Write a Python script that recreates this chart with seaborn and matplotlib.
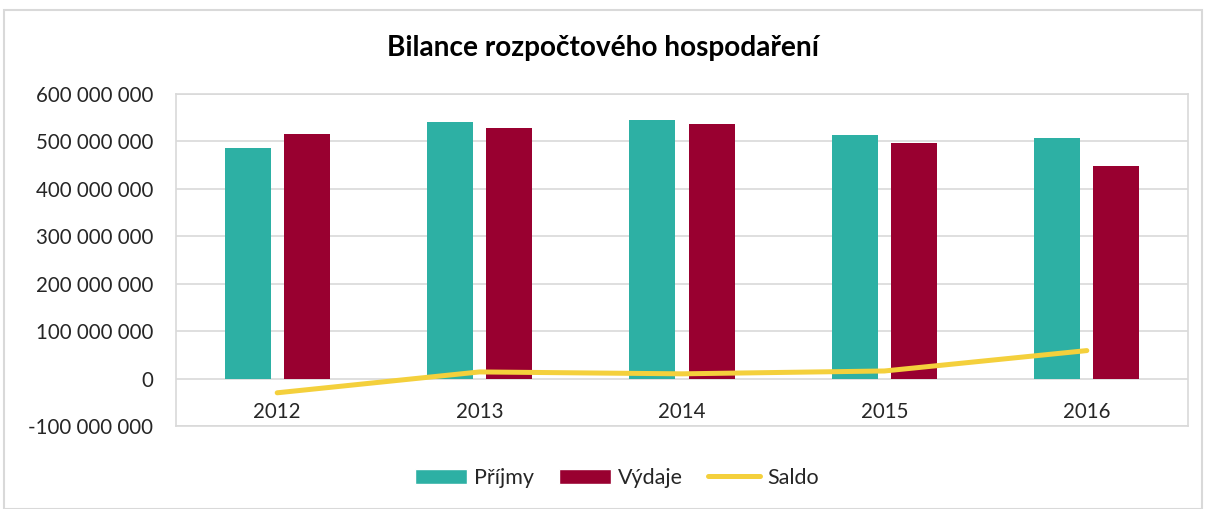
import matplotlib
matplotlib.use("Agg")
import matplotlib.pyplot as plt
import seaborn as sns
import pandas as pd
import numpy as np
from matplotlib.patches import Patch, Rectangle
from matplotlib.lines import Line2D
from matplotlib.ticker import FuncFormatter

years = ["2012", "2013", "2014", "2015", "2016"]
prijmy = [486e6, 542e6, 545e6, 513e6, 507e6]
vydaje = [516e6, 528e6, 537e6, 497e6, 448e6]
saldo = [-30e6, 14e6, 10e6, 16e6, 59e6]
series_names = ["Příjmy", "Výdaje", "Saldo"]
colors = {"Příjmy": "#2DB0A4", "Výdaje": "#990030", "Saldo": "#F4D03C"}

sns.set_theme(style="white")
plt.rcParams["font.family"] = ["Lato", "DejaVu Sans"]

df = pd.DataFrame({
    "year": years * 2,
    "value": prijmy + vydaje,
    "series": [series_names[0]] * 5 + [series_names[1]] * 5,
})

fig = plt.figure(figsize=(12.06, 5.09), dpi=100)
ax = fig.add_axes([176 / 1206, 1 - 426 / 509, (1188 - 176) / 1206, (426 - 94) / 509])

sns.barplot(data=df, x="year", y="value", hue="series", order=years,
            hue_order=series_names[:2], palette=colors, saturation=1,
            width=0.584, gap=0.22, ax=ax, legend=False, edgecolor="none", linewidth=0)
sns.lineplot(x=np.arange(len(years)), y=saldo, color=colors["Saldo"],
             linewidth=3.6, ax=ax, zorder=5)

ax.set_ylim(-100e6, 600e6)
ax.set_xlim(-0.5, 4.5)
ax.set_yticks(np.arange(-100e6, 600e6 + 1, 100e6))
ax.yaxis.set_major_formatter(FuncFormatter(lambda v, p: f"{int(round(v)):,}".replace(",", " ")))
ax.grid(axis="y", color="#D9D9D9", linewidth=1.2)
ax.set_axisbelow(True)
for s in ax.spines.values():
    s.set_color("#D9D9D9")
    s.set_linewidth(1.2)
ax.set_xlabel("")
ax.set_ylabel("")
ax.set_xticks(range(len(years)))
ax.set_xticklabels(years)
ax.tick_params(axis="x", length=0, pad=-17, labelsize=14.8, colors="#262626")
ax.tick_params(axis="y", length=0, pad=16.5, labelsize=14.8, colors="#262626")
for lab in ax.get_xticklabels():
    lab.set_verticalalignment("top")

fig.text(0.5, 1 - 48 / 509, "Bilance rozpočtového hospodaření", ha="center", va="center",
         fontsize=20.2, fontweight="bold", color="#000000")

handles = [Patch(facecolor=colors["Příjmy"], label="Příjmy"),
           Patch(facecolor=colors["Výdaje"], label="Výdaje"),
           Line2D([0], [0], color=colors["Saldo"], linewidth=3.6, label="Saldo")]
fig.legend(handles=handles, loc="center", bbox_to_anchor=(617 / 1206, 1 - 478 / 509), ncol=3,
           frameon=False, fontsize=15.5, handlelength=2.4, handleheight=0.7,
           columnspacing=1.15, handletextpad=0.35, labelcolor="#262626")

fig.patches.append(Rectangle((4 / 1206, 0), 1198 / 1206, 1 - 10 / 509, transform=fig.transFigure,
                             fill=False, edgecolor="#D9D9D9", linewidth=1.5))

fig.savefig("out.png", dpi=100)
